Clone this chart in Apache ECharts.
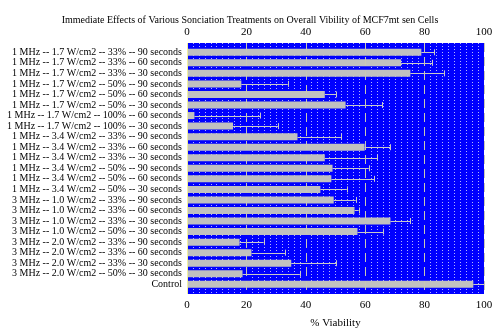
<!DOCTYPE html>
<html>
<head>
<meta charset="utf-8">
<script src="https://cdn.jsdelivr.net/npm/echarts@6/dist/echarts.min.js"></script>
<style>html,body{margin:0;padding:0;background:#fff}#c{width:500px;height:331px}</style>
</head>
<body>
<div id="c"></div>
<script>
var titleText = 'Immediate Effects of Various Sonciation Treatments on Overall Vibility of MCF7mt sen Cells';
var categories = [
  '1 MHz -- 1.7 W/cm2 -- 33% -- 90 seconds',
  '1 MHz -- 1.7 W/cm2 -- 33% -- 60 seconds',
  '1 MHz -- 1.7 W/cm2 -- 33% -- 30 seconds',
  '1 MHz -- 1.7 W/cm2 -- 50% -- 90 seconds',
  '1 MHz -- 1.7 W/cm2 -- 50% -- 60 seconds',
  '1 MHz -- 1.7 W/cm2 -- 50% -- 30 seconds',
  '1 MHz -- 1.7 W/cm2 -- 100% -- 60 seconds',
  '1 MHz -- 1.7 W/cm2 -- 100% -- 30 seconds',
  '1 MHz -- 3.4 W/cm2 -- 33% -- 90 seconds',
  '1 MHz -- 3.4 W/cm2 -- 33% -- 60 seconds',
  '1 MHz -- 3.4 W/cm2 -- 33% -- 30 seconds',
  '1 MHz -- 3.4 W/cm2 -- 50% -- 90 seconds',
  '1 MHz -- 3.4 W/cm2 -- 50% -- 60 seconds',
  '1 MHz -- 3.4 W/cm2 -- 50% -- 30 seconds',
  '3 MHz -- 1.0 W/cm2 -- 33% -- 90 seconds',
  '3 MHz -- 1.0 W/cm2 -- 33% -- 60 seconds',
  '3 MHz -- 1.0 W/cm2 -- 33% -- 30 seconds',
  '3 MHz -- 1.0 W/cm2 -- 50% -- 30 seconds',
  '3 MHz -- 2.0 W/cm2 -- 33% -- 90 seconds',
  '3 MHz -- 2.0 W/cm2 -- 33% -- 60 seconds',
  '3 MHz -- 2.0 W/cm2 -- 33% -- 30 seconds',
  '3 MHz -- 2.0 W/cm2 -- 50% -- 30 seconds',
  'Control'
];
var viability = [78.9, 72.1, 75.2, 18.3, 46.4, 53.4, 2.5, 15.5, 37.2, 59.8, 46.4, 49.0, 48.6, 44.9, 49.4, 56.4, 68.5, 57.4, 17.7, 21.7, 35.1, 18.7, 96.4];
var errorTop = [83.2, 82.5, 86.5, 33.9, 50.2, 65.8, 24.6, 30.6, 51.9, 68.5, 64.0, 61.2, 63.0, 53.8, 56.8, 57.8, 75.1, 66.0, 25.8, 33.0, 50.2, 38.0, 100];
var xTicks = [0, 20, 40, 60, 80, 100];
var axisName = '% Viability';

var font = 'Liberation Serif';
var errData = viability.map(function (v, i) { return [v, errorTop[i], i]; });

var chart = echarts.init(document.getElementById('c'), null, {renderer: 'canvas'});
chart.setOption({
  animation: false,
  title: {
    text: titleText, left: 'center', top: 10,
    textStyle: {fontFamily: font, fontSize: 10, fontWeight: 'normal', color: '#000'}
  },
  grid: [
    {left: 187, right: 16, top: 43, bottom: 37, show: true, backgroundColor: '#0000FF', borderWidth: 0, outerBoundsMode: 'none', containLabel: false},
    {left: 187, right: 16, top: 47, bottom: 41.4, show: false, outerBoundsMode: 'none', containLabel: false}
  ],
  xAxis: [
    {gridIndex: 0, type: 'value', min: 0, max: 100, interval: 20, position: 'bottom', z: 0,
      axisLine: {show: false}, axisTick: {show: false},
      axisLabel: {fontFamily: font, fontSize: 11, color: '#000', margin: 6,
        formatter: function (v) { return xTicks.indexOf(v) >= 0 ? String(v) : ''; }},
      splitLine: {show: false},
      minorTick: {show: false, splitNumber: 10},
      minorSplitLine: {show: true, lineStyle: {color: '#b4b4ff', type: [1, 2], width: 1}},
      name: axisName, nameLocation: 'middle', nameGap: 24,
      nameTextStyle: {fontFamily: font, fontSize: 11, color: '#000'}
    },
    {gridIndex: 0, type: 'value', min: 0, max: 100, interval: 20, position: 'top', z: 5,
      axisLine: {show: false}, axisTick: {show: false},
      axisLabel: {fontFamily: font, fontSize: 11, color: '#000', margin: 5},
      splitLine: {show: true, lineStyle: {color: '#c8c8b4', type: [9, 5], width: 1}},
      minorSplitLine: {show: false}
    },
    {gridIndex: 1, type: 'value', min: 0, max: 100, show: false}
  ],
  yAxis: [
    {gridIndex: 0, type: 'value', min: 0, max: 1, show: false},
    {gridIndex: 1, type: 'category', data: categories, inverse: true, z: 6,
      axisLine: {show: false}, axisTick: {show: false},
      axisLabel: {fontFamily: font, fontSize: 10, color: '#000', margin: 5, interval: 0},
      splitLine: {show: false}
    }
  ],
  series: [
    {type: 'bar', xAxisIndex: 2, yAxisIndex: 1, data: viability, barWidth: 7,
      itemStyle: {color: '#c0c0c0'}, z: 2, silent: true},
    {type: 'custom', xAxisIndex: 2, yAxisIndex: 1, data: errData, z: 3, silent: true,
      encode: {x: [0, 1], y: 2},
      renderItem: function (params, api) {
        var idx = api.value(2);
        var p0 = api.coord([api.value(0), idx]);
        var p1 = api.coord([api.value(1), idx]);
        var h = 3;
        var style = {stroke: '#c8c8c8', lineWidth: 1};
        return {type: 'group', children: [
          {type: 'line', shape: {x1: p0[0], y1: Math.round(p0[1]) + 0.5, x2: p1[0], y2: Math.round(p1[1]) + 0.5}, style: style},
          {type: 'line', shape: {x1: Math.round(p1[0]) + 0.5, y1: p1[1] - h, x2: Math.round(p1[0]) + 0.5, y2: p1[1] + h}, style: style}
        ]};
      }
    },
    {type: 'line', xAxisIndex: 0, yAxisIndex: 0, data: [], silent: true, z: 7,
      markLine: {silent: true, symbol: 'none', label: {show: false},
        lineStyle: {color: '#f0f0a0', type: 'solid', width: 1},
        data: [[{coord: [0, 0]}, {coord: [0, 1]}]]}}
  ]
});
</script>
</body>
</html>
